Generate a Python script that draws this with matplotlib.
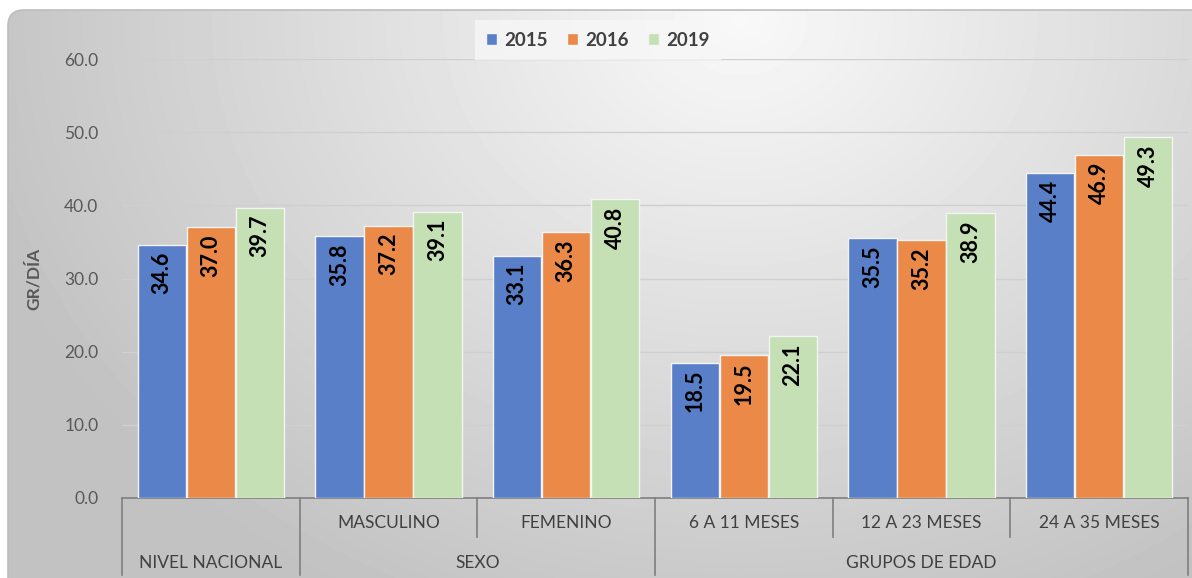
import numpy as np
import matplotlib.pyplot as plt
from matplotlib.patches import FancyBboxPatch
from matplotlib.lines import Line2D

plt.rcParams['font.family'] = ['Lato', 'DejaVu Sans']

# data
subcats = ['', 'MASCULINO', 'FEMENINO', '6 A 11 MESES', '12 A 23 MESES', '24 A 35 MESES']
groups = ['NIVEL NACIONAL', 'SEXO', 'GRUPOS DE EDAD']
group_span = [(0, 0), (1, 2), (3, 5)]
years = ['2015', '2016', '2019']
v2015 = [34.6, 35.8, 33.1, 18.5, 35.5, 44.4]
v2016 = [37.0, 37.2, 36.3, 19.5, 35.2, 46.9]
v2019 = [39.7, 39.1, 40.8, 22.1, 38.9, 49.3]
colors = ['#5A7FC9', '#EB8A48', '#C5E0B4']

W, H = 1192, 578
fig = plt.figure(figsize=(W / 100, H / 100), dpi=100)
fig.patch.set_facecolor('white')

# background with gradient in a rounded box
bg = fig.add_axes([0, 0, 1, 1], zorder=-5)
bg.set_xlim(0, W)
bg.set_ylim(H, 0)
bg.axis('off')
yy, xx = np.mgrid[0:H, 0:W]
d = np.sqrt(((xx - 740) / 850.0) ** 2 + ((yy - 20) / 700.0) ** 2)
shade = np.clip(0.975 - 0.23 * d, 0.76, 0.975)
img = bg.imshow(shade, cmap='gray', vmin=0, vmax=1, extent=(0, W, H, 0), aspect='auto')
box = FancyBboxPatch((8, 10), W + 40, H + 40, boxstyle='round,pad=0,rounding_size=16',
                     facecolor='none', edgecolor='#bdbdbd', lw=1.2)
bg.add_patch(box)
img.set_clip_path(box)

ax = fig.add_axes([122 / W, 1 - 498 / H, (1188 - 122) / W, (498 - 59) / H])
ax.set_facecolor('none')

x = np.arange(len(subcats))
bw = 0.272
for i, vals in enumerate([v2015, v2016, v2019]):
    pos = x + (i - 1) * 0.276
    bars = ax.bar(pos, vals, bw, color=colors[i], edgecolor='#f4f4f4', lw=1, label=years[i], zorder=3)
    for b, v in zip(bars, vals):
        ax.annotate(f'{v:.1f}', (b.get_x() + b.get_width() / 2, v), xytext=(0, -5),
                    textcoords='offset points', rotation=90, ha='center', va='top',
                    fontsize=15.5, fontweight='bold', color='black', zorder=4)

ax.set_xlim(-0.5, 5.5)
ax.set_ylim(0, 60)
ax.set_yticks(np.arange(0, 61, 10))
ax.set_yticklabels([f'{t:.1f}' for t in np.arange(0, 61, 10)])
ax.tick_params(axis='y', length=0, labelsize=12.5, labelcolor='#595959', pad=17)
ax.set_xticks([])
ax.grid(axis='y', color='#cfcfcf', lw=1, zorder=0)
for s in ['top', 'right', 'left']:
    ax.spines[s].set_visible(False)
ax.spines['bottom'].set_color('#7f7f7f')
ax.spines['bottom'].set_linewidth(1.2)
ax.set_ylabel('GR/DÍA', fontsize=12.5, fontweight='bold', color='#595959')
ax.yaxis.set_label_coords((42 - 122) / 1066, 0.5)

# multi-level category axis
tr = ax.get_xaxis_transform()
for i, lab in enumerate(subcats):
    ax.text(i, -0.057, lab, transform=tr, ha='center', va='center', fontsize=12.5, color='#404040')
for lab, (a, b) in zip(groups, group_span):
    ax.text((a + b) / 2, -0.148, lab, transform=tr, ha='center', va='center', fontsize=12.5, color='#404040')
full = [-0.5, 0.5, 2.5, 5.5]
short = [1.5, 3.5, 4.5]
for xv in full:
    ax.add_line(Line2D([xv, xv], [0, -0.175], transform=tr, color='#7f7f7f', lw=1.2, clip_on=False))
for xv in short:
    ax.add_line(Line2D([xv, xv], [0, -0.089], transform=tr, color='#7f7f7f', lw=1.2, clip_on=False))

leg = ax.legend(loc='center', bbox_to_anchor=(598 / W, 1 - 40 / H), bbox_transform=fig.transFigure,
                ncol=3, frameon=True, fontsize=13.5, handlelength=0.6, handleheight=0.6,
                columnspacing=1.0, handletextpad=0.4, borderpad=0.3)
leg.get_frame().set_facecolor('#f7f7f7')
leg.get_frame().set_edgecolor('none')
leg.get_frame().set_boxstyle('square', pad=0.3)
for t in leg.get_texts():
    t.set_fontweight('bold')
    t.set_color('#404040')

fig.savefig('out.png', dpi=100)
